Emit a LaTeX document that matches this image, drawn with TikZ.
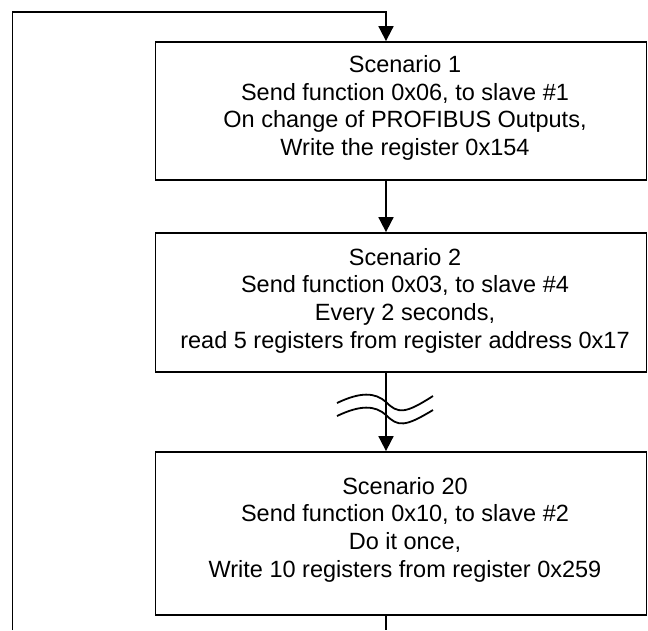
\documentclass[tikz,border=0pt]{standalone}
\usepackage{fontspec}
\setmainfont{Liberation Sans}
\usetikzlibrary{arrows.meta,calc}
\begin{document}
\begin{tikzpicture}[x=1pt,y=-1pt,line width=1.8pt,
  scen/.style={draw, minimum width=491pt, inner sep=0pt},
  scentext/.style={align=center, inner sep=0pt,
    font=\fontsize{23.5}{27.7}\selectfont},
  arr/.style={-{Triangle[length=15pt,width=15pt]}},
  wave/.style={line width=1.8pt}]
\useasboundingbox (0,0) rectangle (648,630);
\coordinate (cx) at (386,0);
\coordinate (topL) at (12.5,12);
\coordinate (botL) at (12.5,630);
\coordinate (botC) at (386,630);
\node[scen, minimum height=138pt] (s1) at (401,111) {};
\node[scen, minimum height=139pt] (s2) at (401,302.5) {};
\node[scen, minimum height=163pt] (s3) at (401,533.5) {};
\node[scentext] (t1) at ($(s1.center)+(4,-3)$) {Scenario 1\\Send function 0x06, to slave \#1\\On change of PROFIBUS Outputs,\\Write the register 0x154};
\node[scentext] (t2) at ($(s2.center)+(4,-2)$) {Scenario 2\\Send function 0x03, to slave \#4\\Every 2 seconds,\\read 5 registers from register address 0x17};
\node[scentext] (t3) at ($(s3.center)+(4,-4)$) {Scenario 20\\Send function 0x10, to slave \#2\\Do it once,\\Write 10 registers from register 0x259};
\draw[arr] (botL) -- (topL) -| (s1.north -| cx);
\draw[arr] (s1.south -| cx) -- (s2.north -| cx);
\draw[arr] (s2.south -| cx) -- (s3.north -| cx);
\draw (s3.south -| cx) -- (botC);
\coordinate (w1a) at (337,403);
\coordinate (w1b) at (433,396);
\coordinate (w2a) at (337,416);
\coordinate (w2b) at (433,410);
\draw[wave] (w1a) .. controls (360,392) and (375,392) .. (386,402) .. controls (398,414) and (405,414) .. (w1b);
\draw[wave] (w2a) .. controls (360,405) and (375,405) .. (386,415) .. controls (398,427) and (405,427) .. (w2b);
\end{tikzpicture}
\end{document}
